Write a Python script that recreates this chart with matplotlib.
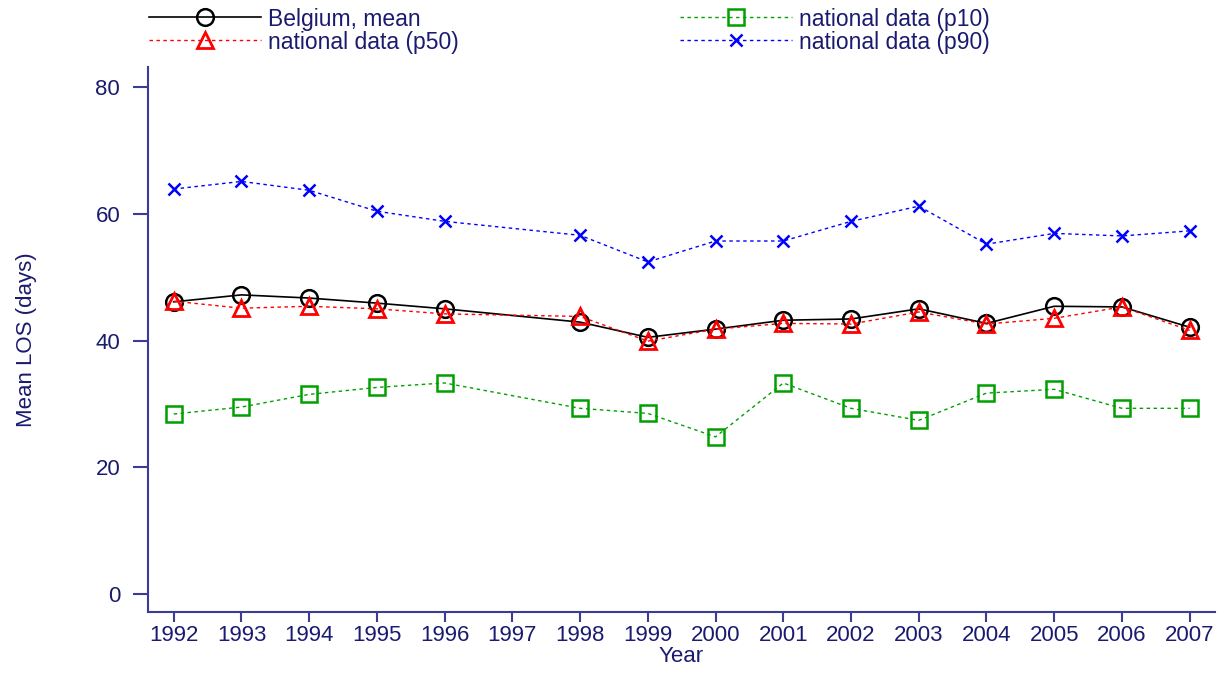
import matplotlib
matplotlib.use('Agg')
import matplotlib.pyplot as plt

plt.rcParams['font.family'] = ['Liberation Sans', 'DejaVu Sans']

years = [1992, 1993, 1994, 1995, 1996, 1998, 1999, 2000, 2001, 2002, 2003, 2004, 2005, 2006, 2007]
tick_years = list(range(1992, 2008))

belgium_mean = [46.1, 47.2, 46.7, 45.9, 45.0, 42.9, 40.5, 41.8, 43.2, 43.4, 45.0, 42.7, 45.4, 45.3, 42.1]
p50 = [46.2, 45.1, 45.4, 45.0, 44.2, 43.8, 39.9, 41.8, 42.7, 42.6, 44.5, 42.6, 43.5, 45.3, 41.6]
p10 = [28.4, 29.5, 31.5, 32.6, 33.3, 29.3, 28.5, 24.8, 33.3, 29.3, 27.4, 31.7, 32.3, 29.3, 29.3]
p90 = [63.9, 65.1, 63.7, 60.4, 58.8, 56.6, 52.4, 55.7, 55.7, 58.8, 61.2, 55.2, 56.9, 56.5, 57.3]

navy = '#1a1a70'
spine = '#3c3c96'
dots = (0, (2.5, 2.5))

fig = plt.figure(figsize=(12.27, 6.73), dpi=100)
ax = fig.add_axes([0.1206, 0.0906, 0.8694, 0.8098])

l1, = ax.plot(years, belgium_mean, color='black', lw=1.2, marker='o', ms=12,
              mfc='none', mec='black', mew=1.8, label='Belgium, mean')
l2, = ax.plot(years, p50, color='red', lw=1, ls=dots, marker='^', ms=12,
              mfc='none', mec='red', mew=2.0, label='national data (p50)')
l3, = ax.plot(years, p10, color='#00a000', lw=1, ls=dots, marker='s', ms=12,
              mfc='none', mec='#00a000', mew=1.8, label='national data (p10)')
l4, = ax.plot(years, p90, color='blue', lw=1, ls=dots, marker='x', ms=9,
              mec='blue', mew=1.8, label='national data (p90)')

ax.set_xlim(1991.62, 2007.37)
ax.set_ylim(-2.84, 83.15)
ax.set_xticks(tick_years)
ax.set_yticks([0, 20, 40, 60, 80])
ax.spines['top'].set_visible(False)
ax.spines['right'].set_visible(False)
for s in ['left', 'bottom']:
    ax.spines[s].set_color(spine)
    ax.spines[s].set_linewidth(1.5)
ax.tick_params(axis='y', colors=spine, labelcolor=navy, labelsize=16, length=11, width=1.5, pad=9)
ax.tick_params(axis='x', colors=spine, labelcolor=navy, labelsize=16, length=7, width=1.5, pad=2)

ax.set_xlabel('Year', color=navy, fontsize=16, labelpad=0)
ax.set_ylabel('Mean LOS (days)', color=navy, fontsize=16, labelpad=42)

fig.legend(handles=[l1, l2, l3, l4], ncol=2, loc='upper left',
           bbox_to_anchor=(0.1047, 1.0195), frameon=False, fontsize=16.5,
           handlelength=4.9, handletextpad=0.3, columnspacing=9.65,
           labelspacing=0.0, labelcolor=navy)

fig.savefig('out.png', dpi=100)
